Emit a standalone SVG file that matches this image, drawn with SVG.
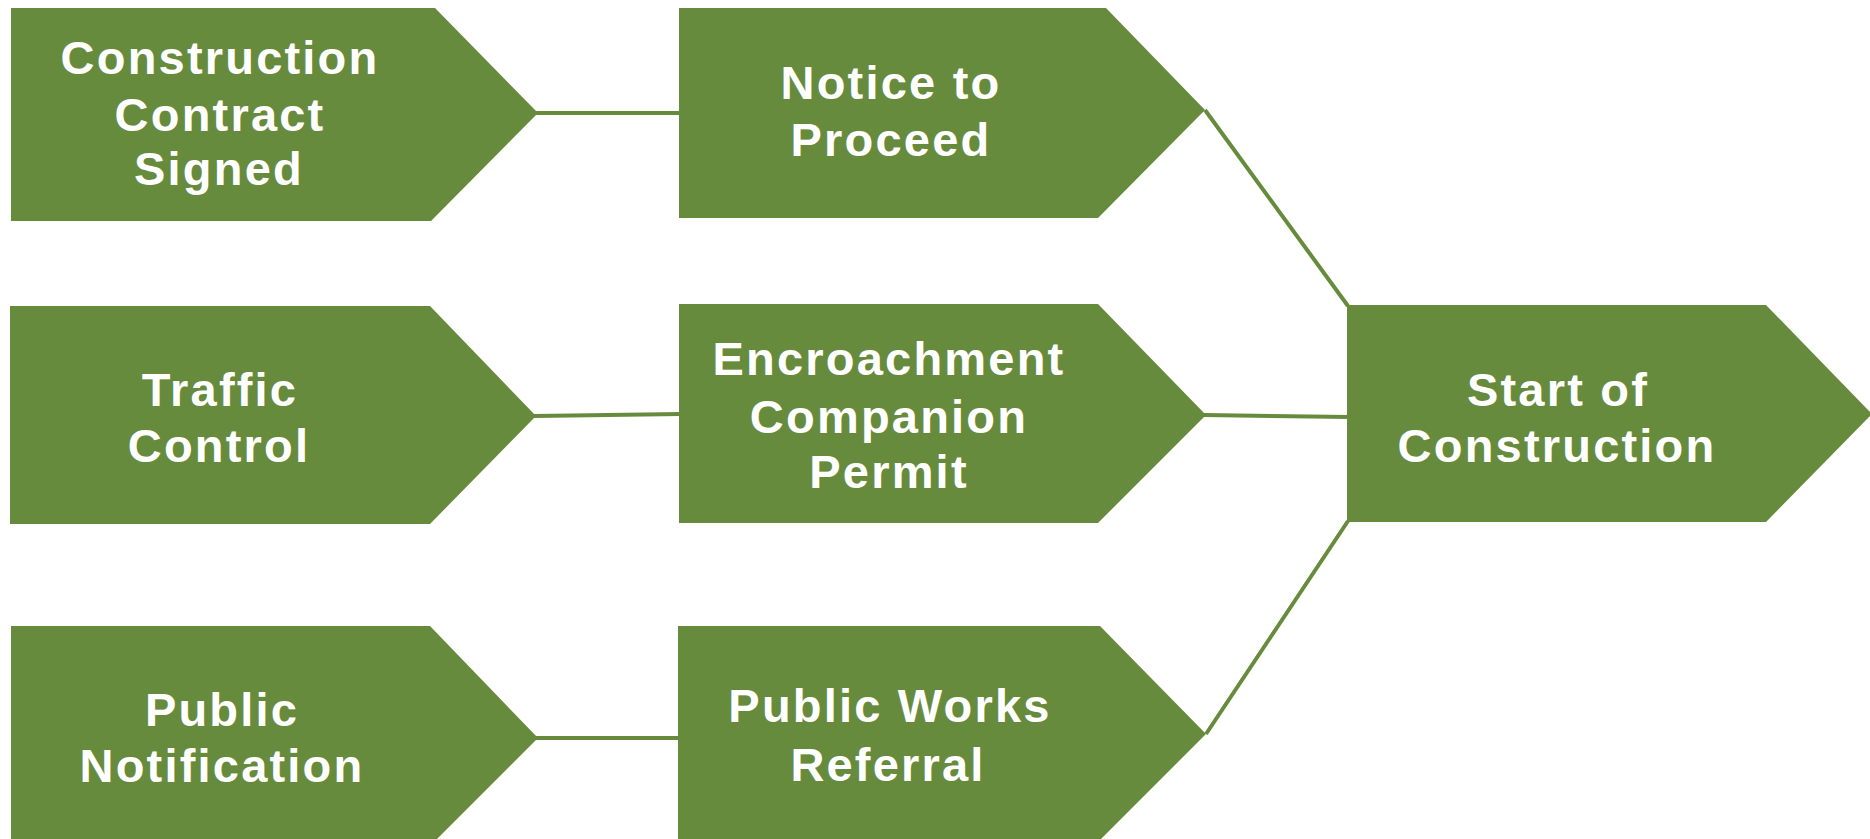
<svg xmlns="http://www.w3.org/2000/svg" width="1870" height="839" viewBox="0 0 1870 839">
<style>
.n{fill:#678b3d}
.t{fill:#ffffff;font-family:"Liberation Sans",Arial,sans-serif;font-weight:bold;font-size:47px;letter-spacing:2.2px;text-anchor:middle}
.c{stroke:#678b3d;stroke-width:4;fill:none}
</style>
<rect width="1870" height="839" fill="#ffffff"/>
<g id="connectors">
<line class="c" x1="536" y1="113" x2="681" y2="113"/>
<line class="c" x1="534" y1="416" x2="681" y2="414"/>
<line class="c" x1="1204" y1="415" x2="1349" y2="417"/>
<line class="c" x1="536" y1="738" x2="680" y2="738"/>
<line class="c" x1="1205" y1="110" x2="1348" y2="306"/>
<line class="c" x1="1206" y1="734" x2="1348" y2="521"/>
</g>
<g id="n1">
<polygon class="n" points="11,8 435,8 538,113 431,221 11,221"/>
<text class="t" x="220" y="74">Construction</text>
<text class="t" x="220" y="131">Contract</text>
<text class="t" x="219" y="185">Signed</text>
</g>
<g id="n2">
<polygon class="n" points="679,8 1106,8 1205,110 1098,218 679,218"/>
<text class="t" x="891" y="99">Notice to</text>
<text class="t" x="891" y="156">Proceed</text>
</g>
<g id="n3">
<polygon class="n" points="10,306 430,306 536,416 430,524 10,524"/>
<text class="t" x="220" y="406">Traffic</text>
<text class="t" x="219" y="462">Control</text>
</g>
<g id="n4">
<polygon class="n" points="679,304 1098,304 1206,415 1098,523 679,523"/>
<text class="t" x="889" y="375">Encroachment</text>
<text class="t" x="889" y="433">Companion</text>
<text class="t" x="889" y="488">Permit</text>
</g>
<g id="n5">
<polygon class="n" points="1347,305 1766,305 1872,414 1766,522 1347,522"/>
<text class="t" x="1558" y="406">Start of</text>
<text class="t" x="1557" y="462">Construction</text>
</g>
<g id="n6">
<polygon class="n" points="11,626 430,626 538,738 430,846 11,846"/>
<text class="t" x="222" y="726">Public</text>
<text class="t" x="222" y="782">Notification</text>
</g>
<g id="n7">
<polygon class="n" points="678,626 1100,626 1206,734 1098,842 678,842"/>
<text class="t" x="890" y="722">Public Works</text>
<text class="t" x="888" y="781">Referral</text>
</g>
</svg>
